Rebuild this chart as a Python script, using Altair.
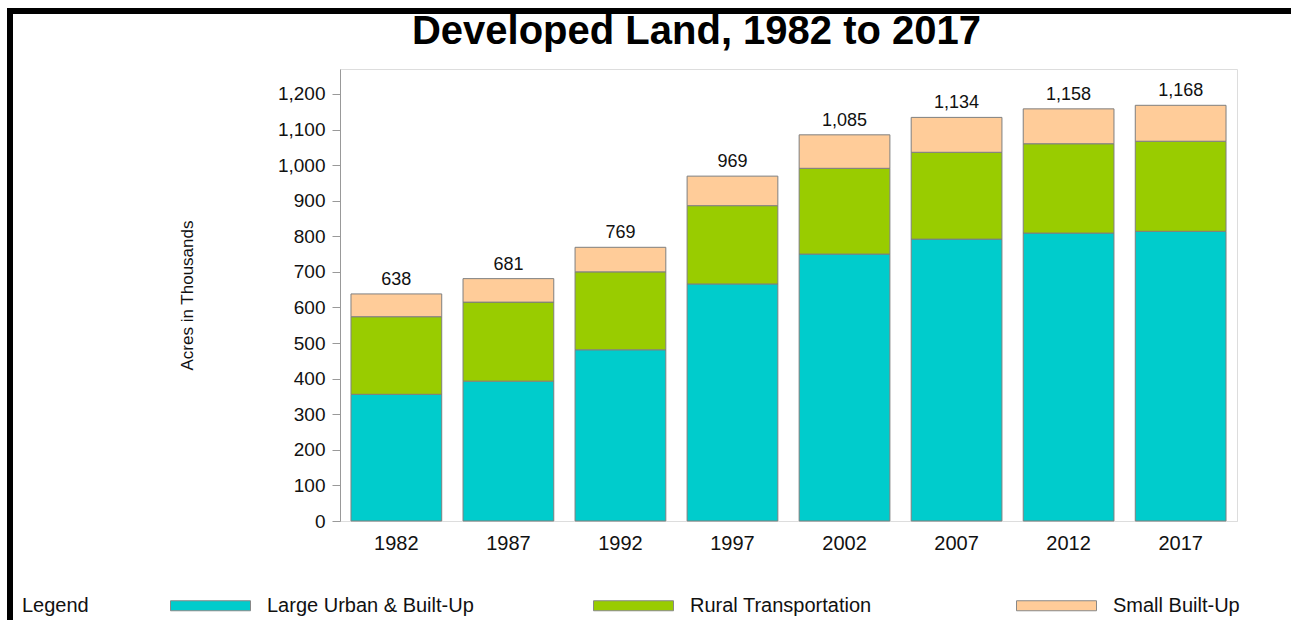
import altair as alt
import pandas as pd

# ---- data ----
years = ["1982", "1987", "1992", "1997", "2002", "2007", "2012", "2017"]
large_urban = [356, 393, 481, 666, 750, 792, 809, 814]
rural_transport = [218, 222, 219, 220, 241, 244, 251, 253]
small_builtup = [64, 66, 69, 83, 94, 98, 98, 101]
totals = [638, 681, 769, 969, 1085, 1134, 1158, 1168]
series = ["Large Urban & Built-Up", "Rural Transportation", "Small Built-Up"]
colors = ["#00CCCC", "#99CC00", "#FFCC99"]
y_ticks = list(range(0, 1201, 100))

rows = []
for i, yr in enumerate(years):
    for k, (name, vals) in enumerate(zip(series, [large_urban, rural_transport, small_builtup])):
        rows.append({"year": yr, "series": name, "value": vals[i], "order": k})
df = pd.DataFrame(rows)
tot_df = pd.DataFrame({"year": years, "total": totals})

W, H = 897, 452
PL, PT = 340, 69
FONT = "Liberation Sans, Arial, sans-serif"

x_enc = alt.X("year:N", sort=years,
              scale=alt.Scale(paddingInner=0.19, paddingOuter=0.098),
              axis=alt.Axis(title=None, labelAngle=0, ticks=False, labelPadding=12,
                            labelFontSize=20, labelColor="#111", labelFont=FONT,
                            domainColor="#dddddd"))
y_scale = alt.Scale(domain=[0, 1270], nice=False)

bars = alt.Chart(df).mark_bar(stroke="#7f7f7f", strokeWidth=1).encode(
    x=x_enc,
    y=alt.Y("value:Q", stack="zero", scale=y_scale,
            axis=alt.Axis(values=y_ticks, tickCount=len(y_ticks), format=",d",
                          title="Acres in Thousands",
                          titleFont=FONT,
                          titleFontSize=17, titleFontWeight="normal", titleColor="#111",
                          titleAngle=-90, titleX=187 - PL, titleY=295 - PT,
                          titleAlign="center", titleBaseline="middle",
                          labelFontSize=19, labelColor="#111", labelFont=FONT,
                          labelOverlap=False,
                          labelPadding=7, tickSize=8, tickColor="#999999",
                          domainColor="#999999", grid=False)),
    color=alt.Color("series:N", sort=series,
                    scale=alt.Scale(domain=series, range=colors),
                    legend=alt.Legend(title="Legend", orient="none",
                                      legendX=22 - PL, legendY=565 - PT,
                                      direction="horizontal", columns=3,
                                      titleOrient="left", titlePadding=81,
                                      titleAnchor="end", titleBaseline="bottom",
                                      titleFontSize=20, titleFontWeight="normal",
                                      titleColor="#111", titleFont=FONT,
                                      labelFontSize=20, labelColor="#111", labelFont=FONT,
                                      labelOffset=16, labelLimit=400,
                                      columnPadding=117, gridAlign="all",
                                      symbolType="M-1,-0.125H1V0.125H-1Z",
                                      symbolSize=6400, symbolStrokeColor="#888888",
                                      symbolStrokeWidth=1, symbolOpacity=1)),
    order=alt.Order("order:Q"),
)

labels = alt.Chart(tot_df).mark_text(dy=-14, fontSize=18, color="#111", font=FONT).encode(
    x=alt.X("year:N", sort=years),
    y=alt.Y("total:Q", scale=y_scale),
    text=alt.Text("total:Q", format=","),
)

frame_data = alt.Data(values=[{"a": 1}])
left_border = alt.Chart(frame_data).mark_rule(color="black", strokeWidth=6).encode(
    x=alt.value(10 - PL), y=alt.value(8 - PT), y2=alt.value(620 - PT))
top_border = alt.Chart(frame_data).mark_rule(color="black", strokeWidth=6).encode(
    x=alt.value(7 - PL), x2=alt.value(1291 - PL), y=alt.value(11 - PT))

chart = alt.layer(bars, labels, left_border, top_border).properties(
    width=W, height=H,
    title=alt.TitleParams("Developed Land, 1982 to 2017", fontSize=40, fontWeight="bold",
                          font=FONT, color="#000", anchor="middle", frame="group",
                          baseline="alphabetic", dx=-92, offset=-79),
    autosize=alt.AutoSizeParams(type="none"),
    padding={"left": PL, "top": PT, "right": 1291 - PL - W, "bottom": 620 - PT - H},
).configure_view(stroke="#999999", strokeWidth=1).configure(background="white")

chart.save("out.html", embed_options={"renderer": "svg", "actions": False})
